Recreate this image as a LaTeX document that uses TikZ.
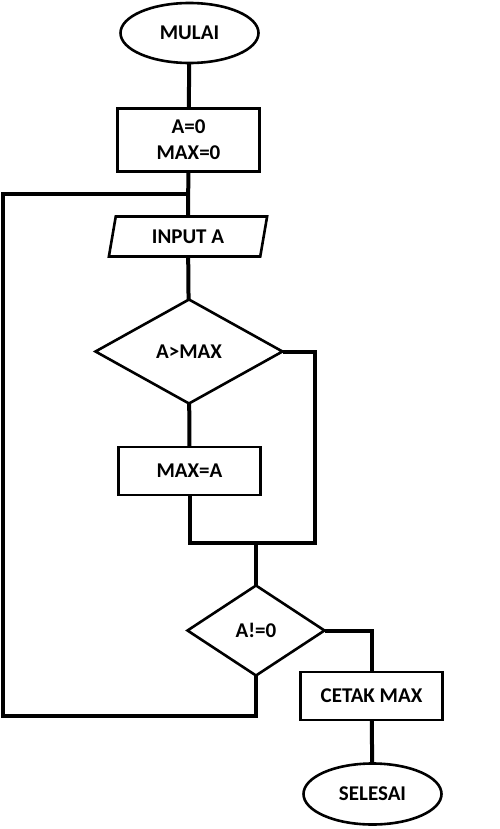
\documentclass[tikz,border=0pt]{standalone}
\usepackage{fontspec}
\setmainfont{Carlito}
\usepackage{tikz}
\usetikzlibrary{shapes,shapes.geometric,positioning}

\tikzset{
 base/.style={draw,line width=2.6pt,inner sep=0pt,outer sep=0pt,font=\fontsize{21}{26}\selectfont\bfseries,align=center},
 term/.style={base,ellipse,minimum width=138,minimum height=60},
 proc/.style={base,rectangle,minimum width=142},
 io/.style={base,trapezium,trapezium left angle=76,trapezium right angle=104,trapezium stretches=true,minimum width=159,minimum height=40},
 cond/.style={base,diamond},
 line/.style={line width=4pt}
}

\begin{document}
\begin{tikzpicture}[x=1pt,y=-1pt]
\useasboundingbox (0,0) rectangle (500,829);
\node[term](mulai) at (189.5,33){MULAI};
\node[proc,minimum height=63](init) at (188.5,140){A=0\\MAX=0};
\node[io](input) at (188,236.5){INPUT A};
\node[cond,minimum width=187,minimum height=104](cek) at (189,351.5){A>MAX};
\node[proc,minimum height=48](maxa) at (189.5,471){MAX=A};
\node[cond,minimum width=137,minimum height=90](ulang) at (256,630.5){A!=0};
\node[proc,minimum height=48](cetak) at (371.5,696){CETAK MAX};
\node[term,minimum height=61](selesai) at (372.5,794){SELESAI};
\coordinate (kiri) at (3,194);
\coordinate (bawah) at (3,716);
\coordinate (gabung) at (315,543);
% alur utama
\draw[line](mulai)--(init);
\draw[line](init)--(input);
\draw[line](input)--(cek);
\draw[line](cek)--(maxa);
\draw[line](cek.east)-|(gabung)--(maxa.south|-gabung)--(maxa.south);
\draw[line](ulang.north)--(ulang.north|-gabung);
\draw[line](ulang.east)-|(cetak.north);
\draw[line](cetak)--(selesai);
% kembali ke input
\draw[line](ulang.south)|-(bawah)--(kiri)--(init.south|-kiri);
\end{tikzpicture}
\end{document}
